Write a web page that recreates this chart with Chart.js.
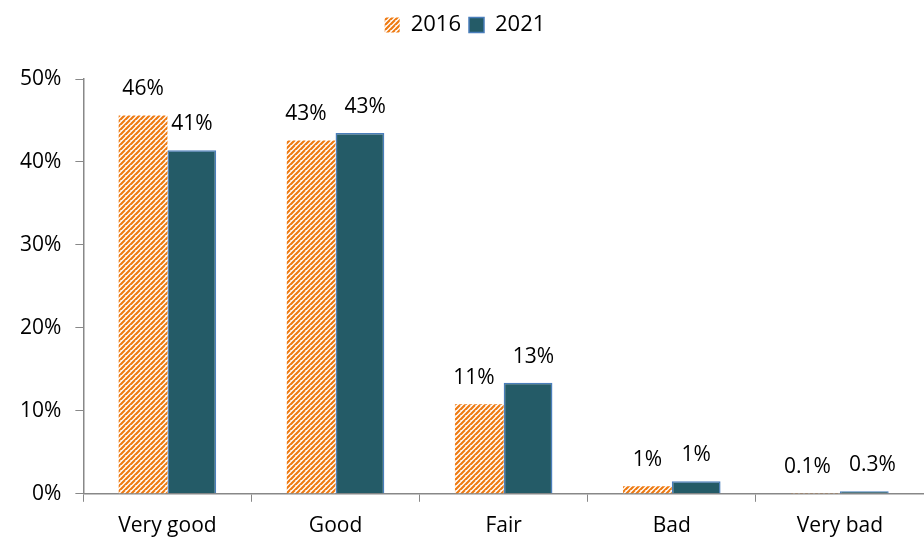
<!DOCTYPE html>
<html>
<head>
<meta charset="utf-8">
<script src="https://cdn.jsdelivr.net/npm/chart.js@4/dist/chart.umd.min.js"></script>
<style>
  html, body { margin: 0; padding: 0; background: #fff; overflow: hidden; }
  #wrap { width: 924px; height: 545px; overflow: hidden; }
</style>
</head>
<body>
<div id="wrap"><canvas id="chart" width="924" height="551"></canvas></div>
<script>
const categories = ["Very good", "Good", "Fair", "Bad", "Very bad"];
const values2016 = [45.6, 42.6, 10.8, 0.9, 0.1];
const values2021 = [41.4, 43.5, 13.4, 1.5, 0.3];
const labels2016 = ["46%", "43%", "11%", "1%", "0.1%"];
const labels2021 = ["41%", "43%", "13%", "1%", "0.3%"];
const yTicks = [0, 10, 20, 30, 40, 50];

const FONT = '"Open Sans", Lato, sans-serif';

// orange diagonal hatch like Excel's "wide upward diagonal"
function makeHatch() {
    const s = 5;
    const c = document.createElement('canvas');
    c.width = s; c.height = s;
    const g = c.getContext('2d');
    g.fillStyle = '#fff';
    g.fillRect(0, 0, s, s);
    g.strokeStyle = '#EE7A12';
    g.lineWidth = 2.2;
    g.beginPath();
    for (let k = -s; k <= 2 * s; k += s) {
        g.moveTo(k - s, 2 * s);
        g.lineTo(k + s, 0);
    }
    g.stroke();
    return g.createPattern(c, 'repeat');
}
const hatch = makeHatch();

// value labels above the bars; pushed apart when a pair would touch
const barLabels = {
    id: 'barLabels',
    afterDatasetsDraw(chart) {
        const ctx = chart.ctx;
        ctx.save();
        ctx.font = '21px ' + FONT;
        ctx.fillStyle = '#000';
        ctx.textAlign = 'center';
        ctx.textBaseline = 'middle';
        const a = chart.getDatasetMeta(0).data;
        const b = chart.getDatasetMeta(1).data;
        a.forEach((barA, j) => {
            const barB = b[j];
            let xa = barA.x, xb = barB.x;
            const wa = ctx.measureText(labels2016[j]).width;
            const wb = ctx.measureText(labels2021[j]).width;
            const need = (wa + wb) / 2 + 18 - (xb - xa);
            if (need > 0 && Math.abs(barA.y - barB.y) < 22) {
                xa -= need / 2;
                xb += need / 2;
            }
            ctx.fillText(labels2016[j], xa, barA.y - 26);
            ctx.fillText(labels2021[j], xb, barB.y - 26);
        });
        ctx.restore();
    }
};

// extra room under the legend
const legendGap = {
    id: 'legendGap',
    beforeInit(chart) {
        const fit = chart.legend.fit;
        chart.legend.fit = function () {
            fit.call(this);
            this.height += 33;
        };
    }
};

new Chart(document.getElementById('chart').getContext('2d'), {
    type: 'bar',
    data: {
        labels: categories,
        datasets: [
            { label: '2016', data: values2016, backgroundColor: hatch, borderWidth: 0 },
            { label: '2021', data: values2021, backgroundColor: '#245B67', borderColor: '#4A7EBB', borderWidth: 1.5 }
        ]
    },
    options: {
        responsive: false,
        animation: false,
        layout: { padding: { top: 6, left: 6, right: 0, bottom: 0 } },
        datasets: { bar: { categoryPercentage: 0.58, barPercentage: 1 } },
        plugins: {
            legend: {
                position: 'top',
                labels: {
                    font: { size: 22, family: FONT },
                    color: '#000',
                    boxWidth: 15,
                    boxHeight: 15,
                    padding: 8
                }
            },
            tooltip: { enabled: false }
        },
        scales: {
            x: {
                grid: { display: true, drawOnChartArea: false, color: '#888', tickLength: 8, offset: true },
                border: { color: '#888', width: 1.5 },
                ticks: { color: '#000', font: { size: 21, family: FONT }, padding: 12 }
            },
            y: {
                min: 0, max: 50,
                afterBuildTicks(scale) { scale.ticks = yTicks.map(v => ({ value: v })); },
                grid: { display: true, drawOnChartArea: false, color: '#888', tickLength: 8 },
                border: { color: '#888', width: 1.5 },
                ticks: { color: '#000', font: { size: 21, family: FONT }, padding: 14,
                         callback: v => v + '%' }
            }
        }
    },
    plugins: [barLabels, legendGap]
});
</script>
</body>
</html>
